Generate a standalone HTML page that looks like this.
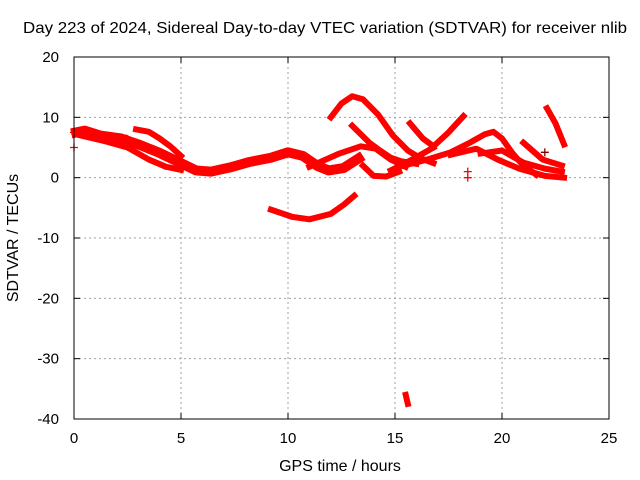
<!DOCTYPE html>
<html><head><meta charset="utf-8"><style>
body{margin:0;background:#fff}
svg{display:block;font-family:"Liberation Sans",sans-serif}
</style></head><body>
<svg id="chart" width="640" height="480" viewBox="0 0 640 480">
<text x="325" y="33" font-size="16" text-anchor="middle" textLength="604" lengthAdjust="spacingAndGlyphs">Day 223 of 2024, Sidereal Day-to-day VTEC variation (SDTVAR) for receiver nlib</text>
<text x="340" y="471" font-size="16" text-anchor="middle">GPS time / hours</text>
<text x="18" y="238" font-size="16" text-anchor="middle" transform="rotate(-90 18 238)">SDTVAR / TECUs</text>
<g id="grid"></g><g id="marks"></g><g id="axes"></g>
</svg>
<script>
const xTicks=[0,5,10,15,20,25];
const yTicks=[20,10,0,-10,-20,-30,-40];
const sA=[[0.1,7.5],[0.5,7.8],[1.2,7],[2.2,6.5],[3.1,5.4],[4,4.1],[5,2.4],[5.7,1.2],[6.4,1],[7.3,1.7],[8.2,2.6],[9.2,3.3],[10,4.2],[10.7,3.6],[11.4,1.9],[11.9,1.2],[12.6,1.6],[13.3,3.2]];
const sB=[[0.3,7],[1.5,6],[2.5,5],[3.5,3],[4.3,1.8],[5,1.3]];
const sC=[[2.9,8],[3.5,7.6],[4,6.5],[4.5,5.2],[5,3.6]];
const sC2=[[2.5,6.5],[3.5,4.5],[4.2,3.5]];
const sD=[[12.0,10],[12.5,12.3],[13,13.5],[13.5,13],[14.2,10.5],[14.9,7],[15.6,4.5],[16.2,3.2],[16.8,2.4]];
const sE=[[13,8.6],[13.8,5.8],[14.3,4.5],[14.8,3.3],[15.3,2.7],[16,2.3]];
const sF=[[11,1.8],[12.4,4],[13.4,5.2],[14.1,4.8],[14.8,3],[15.5,1.8]];
const sG=[[13.5,2],[14,0.3],[14.6,0.2],[15.2,1]];
const sH=[[15.7,9],[16.3,6.5],[16.8,5.2],[17.5,7.5],[18.2,10.2]];
const sH2=[[16.8,5],[15.8,3],[14.8,1.2]];
const sI=[[15.4,2],[16.5,3],[17.6,4.2],[18.5,5.8],[19.2,7.2],[19.6,7.6],[20,6.5],[20.5,4],[21,2],[21.6,0.5]];
const sJ=[[17.6,3.8],[18.8,4.8],[19.8,3],[20.8,1.5],[22,0.3],[22.9,0]];
const sK=[[21,5.8],[21.9,3],[22.8,2]];
const sL=[[22.1,11.5],[22.5,9],[22.9,5.5]];
const sM=[[19,4],[20,4.5],[21,2.5],[22,1.5],[22.8,1]];
const sN=[[9.2,-5.3],[10.2,-6.5],[11,-6.9],[12,-6],[12.6,-4.5],[13.1,-3]];
const sO=[[15.5,-36],[15.6,-37.5]];
const crosses=[[18.4,0],[18.4,1],[0,7.5],[0,5],[22,4.2]];
const seriesList=[sA,sB,sC,sC2,sD,sE,sF,sG,sH,sH2,sI,sJ,sK,sL,sM,sN,sO];
const X0=74,X1=609,Y0=57,Y1=419;
const xs=v=>X0+(v-0)/25*(X1-X0);
const ys=v=>Y0+(20-v)/60*(Y1-Y0);
const NS="http://www.w3.org/2000/svg";
function mk(t,a,p){const e=document.createElementNS(NS,t);for(const k in a)e.setAttribute(k,a[k]);p.appendChild(e);return e;}
const grid=document.getElementById('grid'),marks=document.getElementById('marks'),axes=document.getElementById('axes');
xTicks.forEach(t=>{const x=xs(t);
 if(t>0&&t<25){const g=mk('line',{x1:x,x2:x,y1:Y0,y2:Y1,stroke:'#a0a0a0','stroke-dasharray':'2,3'},grid);
 
 }
 mk('line',{x1:x,x2:x,y1:Y1,y2:Y1-6,stroke:'#000'},axes);mk('line',{x1:x,x2:x,y1:Y0,y2:Y0+6,stroke:'#000'},axes);
 const l=mk('text',{x:x,y:Y1+24,'font-size':15,'text-anchor':'middle'},axes);l.textContent=t;
 
 });
yTicks.forEach(t=>{const y=ys(t);
 if(t<20&&t>-40){const g=mk('line',{x1:X0,x2:X1,y1:y,y2:y,stroke:'#a0a0a0','stroke-dasharray':'2,3'},grid);
 
 }
 mk('line',{x1:X0,x2:X0+6,y1:y,y2:y,stroke:'#000'},axes);mk('line',{x1:X1,x2:X1-6,y1:y,y2:y,stroke:'#000'},axes);
 const l=mk('text',{x:X0-15,y:y+5,'font-size':15,'text-anchor':'end'},axes);l.textContent=t;
 
 });
const fr=mk('rect',{x:X0,y:Y0,width:X1-X0,height:Y1-Y0,fill:'none',stroke:'#000'},axes);


seriesList.forEach(s=>{const p=mk('polyline',{points:s.map(d=>xs(d[0])+','+ys(d[1])).join(' '),fill:'none',stroke:'#f00','stroke-width':s===sA?10:6,'stroke-linejoin':'round','stroke-linecap':'square'},marks);
 
 });
crosses.forEach(c=>{const x=xs(c[0]),y=ys(c[1]);const g=mk('path',{d:`M${x-4},${y}H${x+4}M${x},${y-4}V${y+4}`,stroke:c[0]==22?'#800':'#f00','stroke-width':1.3},marks);
 
 });
</script>
</body></html>
